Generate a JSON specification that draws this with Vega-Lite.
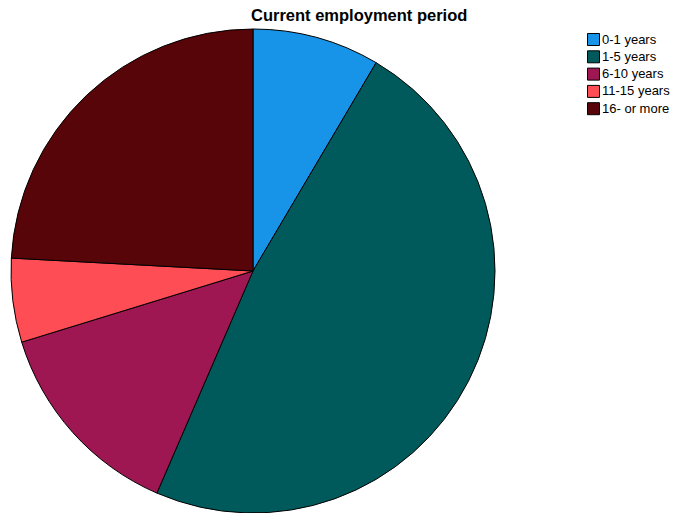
{
  "$schema": "https://vega.github.io/schema/vega-lite/v6.json",
  "width": 506,
  "height": 512,
  "autosize": {"type": "none"},
  "padding": {"left": 0, "top": 15, "right": 169, "bottom": 0},
  "background": "white",
  "config": {"view": {"stroke": null}, "font": "Liberation Sans"},
  "title": {
    "text": "Current employment period",
    "fontSize": 16.5,
    "fontWeight": "bold",
    "font": "Liberation Sans",
    "color": "black",
    "anchor": "start",
    "frame": "group",
    "dx": 251,
    "dy": 9,
    "offset": 0
  },
  "data": {
    "values": [
      {"period": "0-1 years", "pct": 8.5, "ord": 1},
      {"period": "1-5 years", "pct": 48.0, "ord": 2},
      {"period": "6-10 years", "pct": 13.75, "ord": 3},
      {"period": "11-15 years", "pct": 5.6, "ord": 4},
      {"period": "16- or more", "pct": 24.15, "ord": 5}
    ]
  },
  "mark": {"type": "arc", "outerRadius": 242, "stroke": "black", "strokeWidth": 1},
  "encoding": {
    "theta": {"field": "pct", "type": "quantitative", "stack": true},
    "order": {"field": "ord", "type": "quantitative"},
    "color": {
      "field": "period",
      "type": "nominal",
      "sort": ["0-1 years", "1-5 years", "6-10 years", "11-15 years", "16- or more"],
      "scale": {
        "domain": ["0-1 years", "1-5 years", "6-10 years", "11-15 years", "16- or more"],
        "range": ["#1793E8", "#005A5B", "#9E1652", "#FF4D55", "#570508"]
      },
      "legend": {
        "title": null,
        "orient": "none",
        "legendX": 587,
        "legendY": 18,
        "symbolType": "square",
        "symbolSize": 144,
        "symbolStrokeColor": "black",
        "symbolStrokeWidth": 1,
        "symbolOpacity": 1,
        "labelFontSize": 13,
        "labelFont": "Liberation Sans",
        "labelColor": "black",
        "labelOffset": 2,
        "rowPadding": 0.3
      }
    }
  }
}
